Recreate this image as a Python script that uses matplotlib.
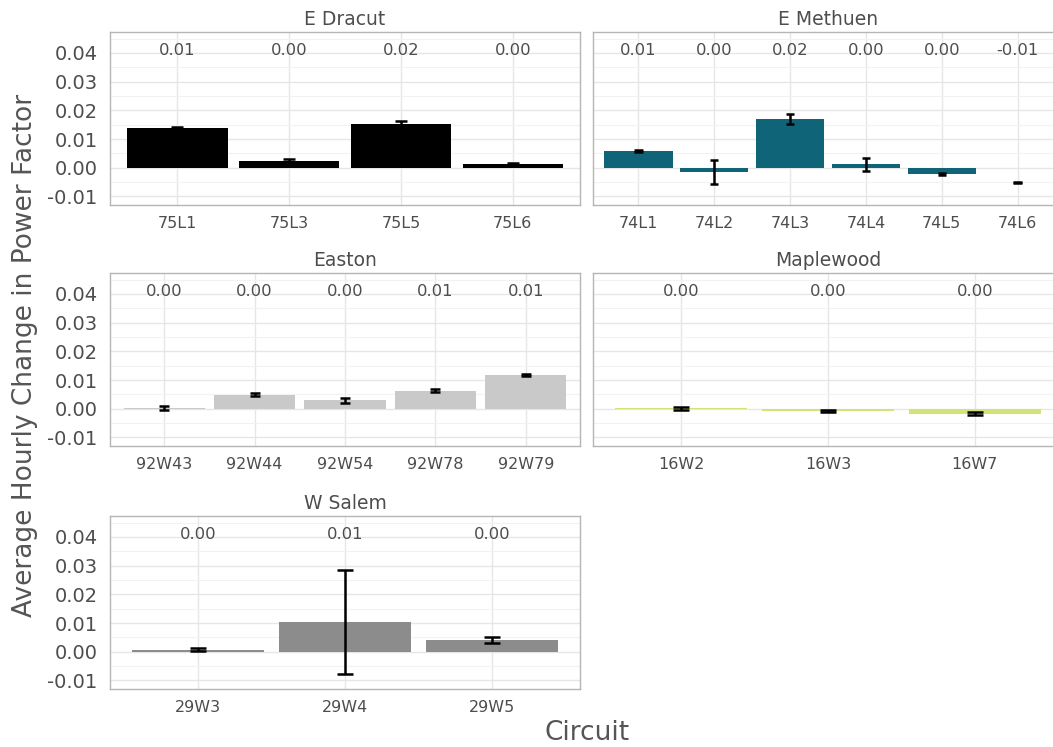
import matplotlib
matplotlib.use("Agg")
import matplotlib.pyplot as plt
from matplotlib.ticker import MultipleLocator

# per-substation circuits: mean hourly change in power factor and error half-width
dracut_circuits = ["75L1", "75L3", "75L5", "75L6"]
dracut_values = [0.0139, 0.0022, 0.0153, 0.0014]
dracut_errors = [0.0004, 0.0007, 0.0009, 0.0004]

methuen_circuits = ["74L1", "74L2", "74L3", "74L4", "74L5", "74L6"]
methuen_values = [0.0057, -0.0015, 0.0169, 0.0012, -0.0022, -0.0052]
methuen_errors = [0.0003, 0.0042, 0.0017, 0.0022, 0.0005, 0.0001]
methuen_has_bar = [True, True, True, True, True, False]

easton_circuits = ["92W43", "92W44", "92W54", "92W78", "92W79"]
easton_values = [0.0002, 0.0049, 0.0029, 0.0063, 0.0117]
easton_errors = [0.0007, 0.0004, 0.0009, 0.0005, 0.0004]

maplewood_circuits = ["16W2", "16W3", "16W7"]
maplewood_values = [0.0001, -0.0007, -0.0017]
maplewood_errors = [0.0005, 0.0004, 0.0006]

salem_circuits = ["29W3", "29W4", "29W5"]
salem_values = [0.0007, 0.0104, 0.0040]
salem_errors = [0.0005, 0.0181, 0.0011]

W, H = 1053, 747
TEXT = "#4d4d4d"


def panel_rect(left, top, width, height):
    # pixel box (top-left origin) -> figure fraction
    return [left / W, 1 - (top + height) / H, width / W, height / H]


def fmt_label(v):
    r = round(v, 2) + 0.0
    return f"{r:.2f}"


def draw_panel(ax, title, circuits, values, errors, color, has_bar=None, show_y=True):
    n = len(circuits)
    x = list(range(n))
    if has_bar is None:
        has_bar = [True] * n
    for xi, v, b in zip(x, values, has_bar):
        if b:
            ax.bar(xi, v, width=0.9, color=color, linewidth=0, zorder=2)
    for xi, v, e in zip(x, values, errors):
        ax.vlines(xi, v - e, v + e, color="black", lw=1.8, zorder=3)
        ax.hlines([v - e, v + e], xi - 0.055, xi + 0.055, color="black", lw=1.8, zorder=3)
        ax.text(xi, 0.041, fmt_label(v), ha="center", va="center",
                fontsize=11.8, color=TEXT, zorder=4)

    ax.set_xlim(-0.6, n - 0.4)
    ax.set_ylim(-0.013, 0.0473)
    ax.set_xticks(x)
    ax.set_xticklabels(circuits)
    ax.yaxis.set_major_locator(MultipleLocator(0.01))
    ax.yaxis.set_minor_locator(MultipleLocator(0.005))
    ax.yaxis.set_major_formatter(lambda v, p: f"{v + 0.0:.2f}")
    ax.tick_params(length=0, which="both")
    ax.tick_params(axis="x", labelsize=11.5, labelcolor=TEXT, pad=8)
    ax.tick_params(axis="y", labelsize=14, labelcolor=TEXT, pad=9)
    if not show_y:
        ax.tick_params(axis="y", labelleft=False)
    ax.grid(True, which="major", color="#e6e6e6", lw=1.0, zorder=0)
    ax.grid(True, which="minor", axis="y", color="#f2f2f2", lw=0.8, zorder=0)
    ax.set_axisbelow(True)
    for s in ax.spines.values():
        s.set_color("#b5b5b5")
        s.set_linewidth(1.0)
    ax.set_title(title, fontsize=13.5, color=TEXT, pad=5)


fig = plt.figure(figsize=(W / 100, H / 100), dpi=100)

ax1 = fig.add_axes(panel_rect(110, 32, 470, 173))
ax2 = fig.add_axes(panel_rect(593, 32, 470, 173))
ax3 = fig.add_axes(panel_rect(110, 273, 470, 173))
ax4 = fig.add_axes(panel_rect(593, 273, 470, 173))
ax5 = fig.add_axes(panel_rect(110, 516, 470, 173))

draw_panel(ax1, "E Dracut", dracut_circuits, dracut_values, dracut_errors, "#000000")
draw_panel(ax2, "E Methuen", methuen_circuits, methuen_values, methuen_errors, "#0f6577",
           has_bar=methuen_has_bar, show_y=False)
draw_panel(ax3, "Easton", easton_circuits, easton_values, easton_errors, "#c9c9c9")
draw_panel(ax4, "Maplewood", maplewood_circuits, maplewood_values, maplewood_errors, "#d2e476",
           show_y=False)
draw_panel(ax5, "W Salem", salem_circuits, salem_values, salem_errors, "#8c8c8c")

fig.text(25 / W, 1 - 355 / H, "Average Hourly Change in Power Factor", rotation=90,
         ha="center", va="center", fontsize=19, color="#555555")
fig.text(587 / W, 1 - 733 / H, "Circuit", ha="center", va="center",
         fontsize=19, color="#555555")

fig.savefig("out.png", dpi=100, facecolor="white")
